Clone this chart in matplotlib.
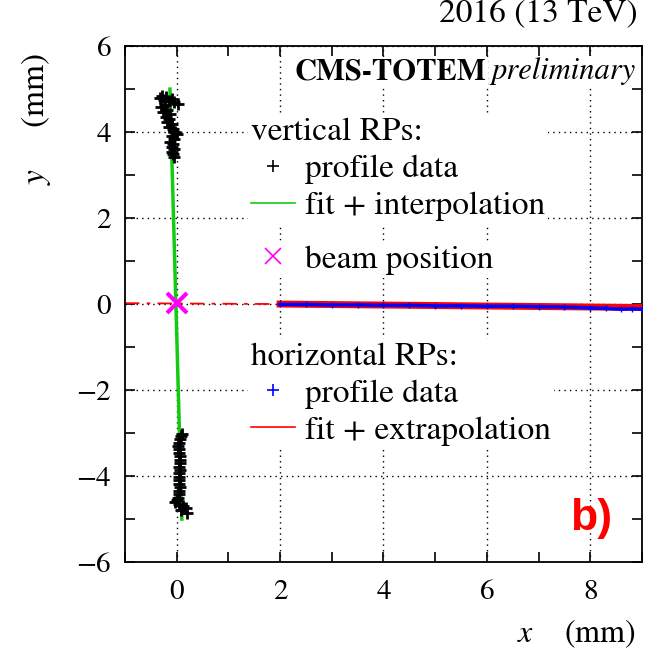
import matplotlib.pyplot as plt
from matplotlib.lines import Line2D
from matplotlib.ticker import MultipleLocator

plt.rcParams['font.family'] = 'STIXGeneral'
plt.rcParams['mathtext.fontset'] = 'stix'

# vertical RPs profile data (top and bottom pots)
top_y = [4.85, 4.82, 4.80, 4.78, 4.75, 4.72, 4.70, 4.66, 4.62, 4.58, 4.52, 4.47, 4.42, 4.36, 4.30,
         4.24, 4.18, 4.12, 4.06, 4.00, 3.95, 3.90, 3.84, 3.78, 3.72, 3.66, 3.60, 3.54, 3.48, 3.42]
top_x = [-0.28, -0.20, -0.33, -0.10, -0.25, -0.15, -0.05, 0.02, -0.22, -0.30, -0.18, -0.26, -0.12, -0.20, -0.15,
         -0.18, -0.10, -0.14, -0.08, -0.04, 0.00, -0.10, -0.06, -0.12, -0.08, -0.10, -0.06, -0.09, -0.07, -0.05]
bot_y = [-3.02, -3.08, -3.15, -3.22, -3.30, -3.38, -3.46, -3.54, -3.62, -3.70, -3.78, -3.86, -3.94, -4.02,
         -4.10, -4.18, -4.26, -4.34, -4.42, -4.50, -4.55, -4.60, -4.65, -4.70, -4.75, -4.80, -4.85]
bot_x = [0.10, 0.09, 0.06, 0.04, 0.03, 0.04, 0.05, 0.06, 0.07, 0.06, 0.05, 0.06, 0.05, 0.04,
         0.05, 0.04, 0.06, 0.05, 0.04, 0.02, 0.00, -0.03, 0.05, 0.12, 0.18, 0.08, 0.20]

# vertical fit + interpolation
vfit_y = [5.0, -5.0]
vfit_x = [-0.13, 0.10]

# horizontal RPs profile data
hor_x = [2.0, 2.5, 3.0, 3.5, 4.0, 4.5, 5.0, 5.5, 6.0, 6.5, 7.0, 7.5, 8.0, 8.3, 8.6, 8.8, 9.0]
hor_y = [-0.01, -0.01, -0.02, -0.02, -0.03, -0.03, -0.04, -0.04, -0.05, -0.05, -0.06, -0.07, -0.09, -0.10, -0.12, -0.11, -0.12]

# horizontal fit (solid) and extrapolation (dash-dot)
hfit_x = [2.0, 9.0]
hfit_y = [0.00, -0.08]
hext_x = [-1.0, 2.0]
hext_y = [0.02, 0.00]

beam_x = [0.0]
beam_y = [0.02]

fig = plt.figure(figsize=(6.56, 6.49), dpi=100)
ax = fig.add_axes([0.1905, 0.134, 0.7882, 0.795])

ax.grid(True, which='major', color='black', linestyle=(0, (1, 3)), linewidth=1.0)
ax.set_axisbelow(True)

ax.plot(hext_x, hext_y, color='red', linestyle=(0, (8, 4, 2, 4)), linewidth=1.3, zorder=2)
ax.plot(hfit_x, hfit_y, color='red', linewidth=5, zorder=3)
ax.plot(hor_x, hor_y, color='blue', linewidth=2.5, marker='+', markersize=5, zorder=4)

ax.plot(vfit_x, vfit_y, color='#11cc11', linewidth=2.5, zorder=3)
ax.plot(top_x, top_y, linestyle='none', marker='+', color='black', markersize=8, mew=2, zorder=4)
ax.plot(bot_x, bot_y, linestyle='none', marker='+', color='black', markersize=8, mew=2, zorder=4)
ax.plot(beam_x, beam_y, linestyle='none', marker='x', color='#ff00ff', markersize=14, mew=3, zorder=5)

ax.set_xlim(-1, 9)
ax.set_ylim(-6, 6)
ax.xaxis.set_major_locator(MultipleLocator(2))
ax.xaxis.set_minor_locator(MultipleLocator(1))
ax.yaxis.set_major_locator(MultipleLocator(1))
ax.yaxis.set_minor_locator(MultipleLocator(1))
ax.set_yticks([-6, -4, -2, 0, 2, 4, 6])
ax.set_yticklabels(['\u22126', '\u22124', '\u22122', '0', '2', '4', '6'])
ax.tick_params(which='both', direction='in', top=True, right=True, length=7, width=1.2, labelsize=21)
ax.tick_params(axis='x', pad=13)
ax.tick_params(axis='y', pad=10)
for s in ax.spines.values():
    s.set_linewidth(1.3)

ax.set_xlabel(r'$x$    (mm)', fontsize=23, loc='right')
ax.xaxis.set_label_coords(0.988, -0.108)
ax.set_ylabel(r'$y$     (mm)', fontsize=24, loc='top')
ax.yaxis.set_label_coords(-0.14, 0.986)

fs = 24
common = dict(fontsize=fs, loc='upper left', frameon=True, framealpha=1, edgecolor='none',
              fancybox=False, handlelength=1.3, handletextpad=0.3, labelspacing=0.2,
              borderpad=0.1, borderaxespad=0)
leg1 = ax.legend(handles=[Line2D([], [], color='black', marker='+', linestyle='none', markersize=9, mew=1.2),
                          Line2D([], [], color='#11cc11', linewidth=1.2)],
                 labels=['profile data', 'fit + interpolation'], title='vertical RPs:',
                 title_fontsize=fs, alignment='left', bbox_to_anchor=(0.238, 0.867), **common)
ax.add_artist(leg1)
leg2 = ax.legend(handles=[Line2D([], [], color='#ff00ff', marker='x', linestyle='none', markersize=12, mew=1.2)],
                 labels=['beam position'], bbox_to_anchor=(0.238, 0.622), **common)
ax.add_artist(leg2)
leg3 = ax.legend(handles=[Line2D([], [], color='blue', marker='+', linestyle='none', markersize=9, mew=1.2),
                          Line2D([], [], color='red', linewidth=1.2)],
                 labels=['profile data', 'fit + extrapolation'], title='horizontal RPs:',
                 title_fontsize=fs, alignment='left', bbox_to_anchor=(0.238, 0.432), **common)

prelim = ax.text(0.988, 0.936, 'preliminary', transform=ax.transAxes, ha='right', va='baseline',
                 fontsize=22, style='italic',
                 bbox=dict(facecolor='white', edgecolor='none', pad=1))
fig.canvas.draw()
bb = prelim.get_window_extent()
x0 = ax.transAxes.inverted().transform((bb.x0 - 5, bb.y0))[0]
ax.text(x0, 0.936, 'CMS-TOTEM', transform=ax.transAxes, ha='right', va='baseline',
        fontsize=22, fontweight='bold', bbox=dict(facecolor='white', edgecolor='none', pad=1))

ax.text(0.942, 0.085, 'b)', transform=ax.transAxes, ha='right', va='center', color='red',
        fontsize=32, fontweight='bold', family='Liberation Sans')

fig.text(0.9726, 0.977, '2016 (13 TeV)', ha='right', va='center', fontsize=24)

fig.savefig('out.png', dpi=100)
